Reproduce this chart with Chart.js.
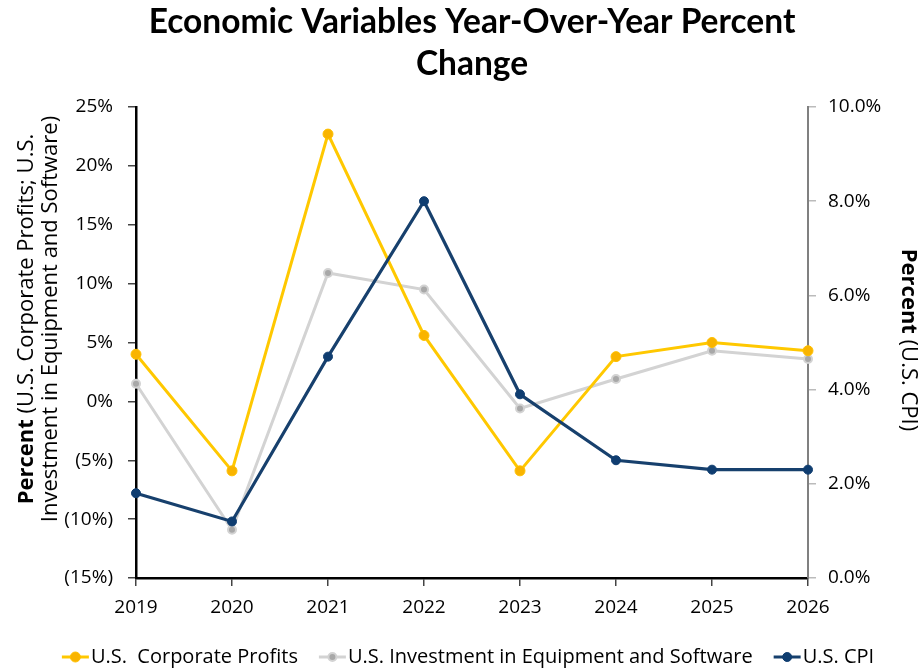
<!DOCTYPE html>
<html><head><meta charset="utf-8">
<script src="https://cdn.jsdelivr.net/npm/chart.js@4.4.1/dist/chart.umd.min.js"></script>
<style>html,body{margin:0;padding:0;background:#fff}#wrap{width:921px;height:671px;position:relative}</style>
</head><body><div id="wrap"><canvas id="c" width="921" height="671"></canvas></div>
<script>
const years = ['2019','2020','2021','2022','2023','2024','2025','2026'];
const corporateProfits = [4.0, -5.9, 22.7, 5.6, -5.9, 3.8, 5.0, 4.3];
const investmentEquipSoftware = [1.5, -10.9, 10.9, 9.5, -0.6, 1.9, 4.3, 3.6];
const usCpi = [1.8, 1.2, 4.7, 8.0, 3.9, 2.5, 2.3, 2.3];
const leftTickValues = [-15, -10, -5, 0, 5, 10, 15, 20, 25];
const rightTickValues = [0, 2, 4, 6, 8, 10];
const seriesNames = ['U.S.  Corporate Profits', 'U.S. Investment in Equipment and Software', 'U.S. CPI'];
const titleLines = ['Economic Variables Year-Over-Year Percent', 'Change'];
const leftTitleLines = [['Percent', ' (U.S. Corporate Profits; U.S.'], ['', 'Investment in Equipment and Software)']];
const rightTitle = ['Percent', ' (U.S. CPI)'];

const FONT = "'Open Sans', 'Noto Sans', sans-serif";
const TITLE_FONT = "Lato, 'Open Sans', sans-serif";

function fmtLeft(v){ return v < 0 ? '(' + Math.abs(v) + '%)' : v + '%'; }
function fmtRight(v){ return v.toFixed(1) + '%'; }

function drawMixed(ctx, parts, size){
  ctx.font = 'bold ' + size + 'px ' + FONT;
  const w1 = ctx.measureText(parts[0]).width;
  ctx.font = size + 'px ' + FONT;
  const w2 = ctx.measureText(parts[1]).width;
  let x = -(w1 + w2) / 2;
  ctx.textAlign = 'left';
  ctx.textBaseline = 'middle';
  ctx.fillStyle = '#000';
  if (parts[0]) { ctx.font = 'bold ' + size + 'px ' + FONT; ctx.fillText(parts[0], x, 0); }
  ctx.font = size + 'px ' + FONT;
  ctx.fillText(parts[1], x + w1, 0);
}

const decor = {
  id: 'decor',
  afterDraw(chart){
    const ctx = chart.ctx;
    const area = chart.chartArea;
    ctx.save();
    ctx.fillStyle = '#000';
    ctx.textAlign = 'center';
    ctx.textBaseline = 'middle';
    ctx.font = 'bold 33.5px ' + TITLE_FONT;
    const cx = (area.left + area.right) / 2;
    ctx.fillText(titleLines[0], cx, 22);
    ctx.fillText(titleLines[1], cx, 64);
    const cy = 319;
    ctx.save(); ctx.translate(27, cy); ctx.rotate(-Math.PI/2); drawMixed(ctx, leftTitleLines[0], 22); ctx.restore();
    ctx.save(); ctx.translate(51, cy); ctx.rotate(-Math.PI/2); drawMixed(ctx, leftTitleLines[1], 22); ctx.restore();
    ctx.save(); ctx.translate(908, 340); ctx.rotate(Math.PI/2); drawMixed(ctx, rightTitle, 22); ctx.restore();
    const ds = chart.data.datasets;
    const order = [0,1,2];
    const LF = '20px ' + FONT;
    ctx.font = LF;
    const mW = 27, gapT = 2, gapI = 21;
    const widths = order.map(i => mW + gapT + ctx.measureText(ds[i].label).width);
    const total = widths.reduce((a,b)=>a+b,0) + gapI * (order.length - 1);
    let x = 468 - total / 2;
    const ly = 657;
    order.forEach((i, k) => {
      const d = ds[i];
      ctx.strokeStyle = d.borderColor; ctx.lineWidth = 3;
      ctx.beginPath(); ctx.moveTo(x, ly); ctx.lineTo(x + mW, ly); ctx.stroke();
      ctx.beginPath(); ctx.arc(x + mW/2, ly, d.pointRadius, 0, Math.PI*2);
      ctx.fillStyle = d.pointBackgroundColor; ctx.fill();
      ctx.lineWidth = d.pointBorderWidth; ctx.strokeStyle = d.pointBorderColor; ctx.stroke();
      ctx.fillStyle = '#000'; ctx.textAlign = 'left'; ctx.textBaseline = 'middle';
      ctx.font = LF;
      ctx.fillText(d.label, x + mW + gapT, ly);
      x += widths[k] + gapI;
    });
    ctx.restore();
  }
};

const tickFont = { family: FONT, size: 19 };

new Chart(document.getElementById('c'), {
  type: 'line',
  data: {
    labels: years,
    datasets: [
      { label: seriesNames[0], data: corporateProfits, yAxisID: 'y', order: 1,
        borderColor: '#FFC800', borderWidth: 3, pointRadius: 5, pointBackgroundColor: '#F9B400',
        pointBorderColor: '#FFC000', pointBorderWidth: 1, tension: 0, clip: false },
      { label: seriesNames[1], data: investmentEquipSoftware, yAxisID: 'y', order: 2,
        borderColor: '#D3D3D3', borderWidth: 3, pointRadius: 4, pointBackgroundColor: '#A8A8A8',
        pointBorderColor: '#D3D3D3', pointBorderWidth: 2, tension: 0, clip: false },
      { label: seriesNames[2], data: usCpi, yAxisID: 'y1', order: 0,
        borderColor: '#17406D', borderWidth: 3.2, pointRadius: 4.5, pointBackgroundColor: '#0F3D70',
        pointBorderColor: '#0F3D70', pointBorderWidth: 1, tension: 0, clip: false }
    ]
  },
  options: {
    responsive: false,
    animation: false,
    events: [],
    layout: { padding: { top: 107, left: 0, right: 0, bottom: 0 } },
    plugins: { legend: { display: false }, title: { display: false }, tooltip: { enabled: false } },
    scales: {
      x: {
        offset: false,
        grid: { display: true, drawOnChartArea: false, drawTicks: true, tickLength: 8, color: '#444', lineWidth: 1.5 },
        border: { display: true, color: '#000', width: 2.5 },
        ticks: { font: tickFont, color: '#000', padding: 10, maxRotation: 0, autoSkip: false },
        afterFit(s){ s.height = 93; }
      },
      y: {
        position: 'left', min: -15, max: 25,
        afterBuildTicks(s){ s.ticks = leftTickValues.map(v => ({ value: v })); },
        grid: { display: true, drawOnChartArea: false, drawTicks: true, tickLength: 8, color: '#444', lineWidth: 1.5 },
        border: { display: true, color: '#000', width: 2.5 },
        ticks: { font: tickFont, color: '#000', padding: 15, callback: v => fmtLeft(v) },
        afterFit(s){ s.width = 136; }
      },
      y1: {
        position: 'right', min: 0, max: 10,
        afterBuildTicks(s){ s.ticks = rightTickValues.map(v => ({ value: v })); },
        grid: { display: true, drawOnChartArea: false, drawTicks: true, tickLength: 8, color: '#BBBBBB', lineWidth: 1.5 },
        border: { display: true, color: '#808080', width: 2 },
        ticks: { font: tickFont, color: '#000', padding: 12, callback: v => fmtRight(v) },
        afterFit(s){ s.width = 113; }
      }
    }
  },
  plugins: [decor]
});
</script>
</body></html>
